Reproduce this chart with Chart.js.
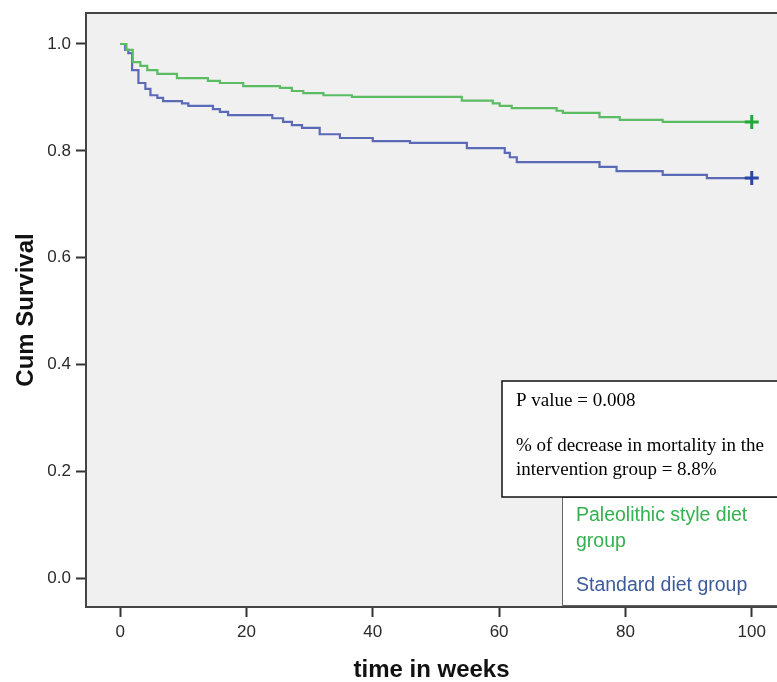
<!DOCTYPE html>
<html>
<head>
<meta charset="utf-8">
<script src="https://cdn.jsdelivr.net/npm/chart.js@4.4.1/dist/chart.umd.min.js"></script>
<style>
  html, body { margin: 0; padding: 0; background: #fff; }
  #wrap { width: 777px; height: 682px; position: relative; }
</style>
</head>
<body>
<div id="wrap"><canvas id="kmChart"></canvas></div>
<script>
// Kaplan-Meier steps (weeks, cumulative survival)
const paleoWeeks = [0, 1, 2, 3.2, 4.3, 5.9, 9, 13.9, 15.8, 19.5, 25.3, 27.2, 29, 32.2, 36.7, 54.1, 59, 60.1, 62, 69.1, 70.1, 75.9, 79.1, 85.9, 100];
const paleoSurv = [1.0, 0.989, 0.966, 0.959, 0.951, 0.944, 0.936, 0.931, 0.927, 0.921, 0.918, 0.912, 0.908, 0.904, 0.901, 0.894, 0.889, 0.884, 0.880, 0.875, 0.871, 0.863, 0.858, 0.854, 0.854];

const standardWeeks = [0, 0.8, 1.3, 1.9, 2.9, 4.0, 4.8, 5.9, 6.8, 9.8, 10.8, 14.7, 15.8, 17.1, 24.1, 25.8, 27.2, 28.8, 31.6, 34.8, 40, 45.9, 54.9, 60.9, 61.7, 62.8, 75.9, 78.6, 85.9, 92.9, 100];
const standardSurv = [1.0, 0.989, 0.983, 0.951, 0.927, 0.916, 0.904, 0.899, 0.893, 0.889, 0.884, 0.878, 0.873, 0.867, 0.861, 0.854, 0.848, 0.843, 0.831, 0.824, 0.818, 0.815, 0.805, 0.796, 0.788, 0.779, 0.770, 0.762, 0.755, 0.749, 0.749];

// censored at end of follow-up
const censorWeek = [100];

const xTicks = [0, 20, 40, 60, 80, 100];
const yTicks = [0.0, 0.2, 0.4, 0.6, 0.8, 1.0];

const legendLabels = ['Paleolithic style diet', 'group', 'Standard diet group'];
const noteLines = ['P value = 0.008', '% of decrease in mortality in the', 'intervention group = 8.8%'];

const toPoints = (xs, ys) => xs.map((x, i) => ({ x: x, y: ys[i] }));

// plot background + top border
const frame = {
    id: 'frame',
    beforeDraw(chart) {
        const { ctx, chartArea: a } = chart;
        ctx.save();
        ctx.fillStyle = '#f0f0f0';
        ctx.fillRect(a.left, a.top, a.right - a.left, a.bottom - a.top);
        ctx.restore();
    },
    afterDraw(chart) {
        const { ctx, chartArea: a } = chart;
        ctx.save();
        ctx.strokeStyle = '#444';
        ctx.lineWidth = 2;
        ctx.beginPath();
        ctx.moveTo(a.left - 1, a.top);
        ctx.lineTo(a.right, a.top);
        ctx.stroke();
        ctx.restore();
    }
};

// p-value note and group legend boxes
const notes = {
    id: 'notes',
    afterDraw(chart) {
        const ctx = chart.ctx;
        ctx.save();
        // legend box
        ctx.fillStyle = '#fff';
        ctx.fillRect(562, 497, 230, 108);
        ctx.strokeStyle = '#666';
        ctx.lineWidth = 1;
        ctx.strokeRect(562.5, 497.5, 230, 108);
        // note box
        ctx.fillRect(502, 381, 290, 116);
        ctx.strokeStyle = '#111';
        ctx.lineWidth = 1.5;
        ctx.strokeRect(502, 381, 290, 116);

        ctx.textBaseline = 'middle';
        ctx.textAlign = 'left';
        ctx.fillStyle = '#000';
        ctx.font = '19px "Liberation Serif", "Times New Roman", serif';
        ctx.fillText(noteLines[0], 516, 401);
        ctx.fillText(noteLines[1], 516, 446);
        ctx.fillText(noteLines[2], 516, 470);

        ctx.font = '19.5px "Liberation Sans", Arial, sans-serif';
        ctx.fillStyle = '#33b24f';
        ctx.fillText(legendLabels[0], 576, 516);
        ctx.fillText(legendLabels[1], 576, 542);
        ctx.fillStyle = '#3c5a9c';
        ctx.fillText(legendLabels[2], 576, 586);
        ctx.restore();
    }
};

new Chart(document.getElementById('kmChart').getContext('2d'), {
    type: 'line',
    data: {
        datasets: [{
            label: 'Paleolithic censor',
            type: 'scatter',
            data: toPoints(censorWeek, [paleoSurv[paleoSurv.length - 1]]),
            pointStyle: 'cross',
            pointRadius: 7,
            borderWidth: 3,
            borderColor: '#22a836'
        }, {
            label: 'Standard censor',
            type: 'scatter',
            data: toPoints(censorWeek, [standardSurv[standardSurv.length - 1]]),
            pointStyle: 'cross',
            pointRadius: 7,
            borderWidth: 3,
            borderColor: '#2a46a4'
        }, {
            label: 'Paleolithic style diet group',
            data: toPoints(paleoWeeks, paleoSurv),
            stepped: true,
            borderColor: 'rgb(92, 188, 100)',
            borderWidth: 2.2,
            pointRadius: 0,
            fill: false
        }, {
            label: 'Standard diet group',
            data: toPoints(standardWeeks, standardSurv),
            stepped: true,
            borderColor: 'rgb(90, 106, 182)',
            borderWidth: 2.2,
            pointRadius: 0,
            fill: false
        }]
    },
    options: {
        responsive: true,
        maintainAspectRatio: false,
        animation: false,
        layout: { autoPadding: false, padding: { top: 13, right: 0, left: 0, bottom: 0 } },
        plugins: {
            legend: { display: false },
            tooltip: { enabled: false }
        },
        scales: {
            x: {
                type: 'linear',
                min: -5.4,
                max: 104,
                afterFit(scale) {
                    scale.height = 75;
                    scale.paddingLeft = 0;
                    scale.paddingRight = 0;
                },
                afterBuildTicks(scale) { scale.ticks = xTicks.map(v => ({ value: v })); },
                grid: { drawOnChartArea: false, drawTicks: true, tickLength: 10, tickColor: '#333', tickWidth: 2 },
                border: { display: true, color: '#444', width: 2 },
                ticks: {
                    color: '#2a2a2a',
                    padding: 5,
                    maxRotation: 0,
                    font: { family: '"Liberation Sans", Arial, sans-serif', size: 17 }
                },
                title: {
                    display: true,
                    text: 'time in weeks',
                    color: '#111',
                    padding: { top: 0, bottom: 0 },
                    font: { family: '"Liberation Sans", Arial, sans-serif', size: 24, weight: 'bold', lineHeight: 1 }
                }
            },
            y: {
                min: -0.054,
                max: 1.058,
                afterFit(scale) {
                    scale.width = 86;
                    scale.paddingTop = 0;
                    scale.paddingBottom = 0;
                },
                afterBuildTicks(scale) { scale.ticks = yTicks.map(v => ({ value: v })); },
                grid: { drawOnChartArea: false, drawTicks: true, tickLength: 10, tickColor: '#333', tickWidth: 2 },
                border: { display: true, color: '#444', width: 2 },
                ticks: {
                    color: '#2a2a2a',
                    padding: 5,
                    callback: v => v.toFixed(1),
                    font: { family: '"Liberation Sans", Arial, sans-serif', size: 17 }
                },
                title: {
                    display: true,
                    text: 'Cum Survival',
                    color: '#111',
                    padding: { top: 14, bottom: 0 },
                    font: { family: '"Liberation Sans", Arial, sans-serif', size: 24, weight: 'bold', lineHeight: 1 }
                }
            }
        }
    },
    plugins: [frame, notes]
});
</script>
</body>
</html>
